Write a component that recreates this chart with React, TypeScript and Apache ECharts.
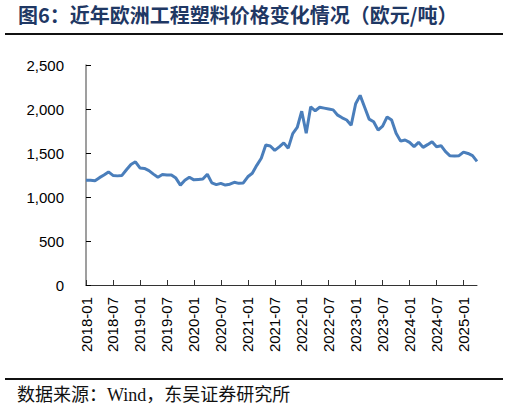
import { useEffect, useRef } from 'react';
import * as echarts from 'echarts';

// monthly price, EUR/ton, 2018-01 .. 2025-04
const startYear = 2018;
const monthCount = 88;

const months: string[] = [];
for (let i = 0; i < monthCount; i++) {
  const y = startYear + Math.floor(i / 12);
  const m = (i % 12) + 1;
  months.push(`${y}-${m < 10 ? '0' + m : m}`);
}

const prices = [
  1190, 1190, 1185, 1220, 1250, 1285, 1245, 1240, 1245, 1310, 1370, 1400,
  1330, 1325, 1300, 1260, 1225, 1255, 1250, 1250, 1215, 1135, 1190, 1225,
  1195, 1200, 1205, 1258, 1160, 1140, 1155, 1136, 1145, 1167, 1155, 1160,
  1230, 1270, 1360, 1440, 1590, 1580, 1530, 1570, 1615, 1555, 1720, 1790,
  1975, 1725, 2025, 1980, 2020, 2010, 2000, 1990, 1930, 1900, 1875, 1815,
  2060, 2155, 2020, 1885, 1855, 1760, 1805, 1910, 1875, 1725, 1635, 1648,
  1620, 1572, 1621, 1564, 1595, 1629, 1572, 1583, 1515, 1468, 1466, 1470,
  1510, 1495, 1470, 1405,
];

const titleText = '图6：近年欧洲工程塑料价格变化情况（欧元/吨）';
const sourceText = '数据来源：Wind，东吴证券研究所';

export default function App() {
  const chartRef = useRef<HTMLDivElement>(null);

  useEffect(() => {
    if (!chartRef.current) return;
    const chart = echarts.init(chartRef.current, undefined, { renderer: 'svg' });

    const option: echarts.EChartsOption = {
      animation: false,
      backgroundColor: '#fff',
      grid: { left: 86, right: 32, top: 65, bottom: 128 },
      graphic: [
        {
          type: 'text',
          left: 18,
          top: 4,
          style: {
            text: titleText,
            fill: '#1f3864',
            font: 'bold 20px "Noto Sans CJK SC", sans-serif',
          },
        },
        {
          type: 'line',
          shape: { x1: 5, y1: 34, x2: 503, y2: 34 },
          style: { stroke: '#111', lineWidth: 2 },
        },
        {
          type: 'line',
          shape: { x1: 5, y1: 379, x2: 503, y2: 379 },
          style: { stroke: '#111', lineWidth: 2 },
        },
        {
          type: 'text',
          left: 17,
          top: 386,
          style: {
            text: sourceText,
            fill: '#111',
            font: '18px "Liberation Serif", "Noto Sans CJK SC", serif',
          },
        },
      ],
      xAxis: {
        type: 'category',
        data: months,
        boundaryGap: false,
        axisLine: { lineStyle: { color: '#333', width: 1 } },
        axisTick: { inside: true, length: 5, interval: 5, lineStyle: { color: '#333' } },
        axisLabel: {
          interval: 5,
          rotate: 90,
          margin: 12,
          color: '#000',
          fontSize: 15,
          fontFamily: 'Arial, "Liberation Sans", sans-serif',
        },
        splitLine: { show: false },
      },
      yAxis: {
        type: 'value',
        min: 0,
        max: 2500,
        interval: 500,
        axisLine: { show: true, lineStyle: { color: '#7f7f7f', width: 1.5 } },
        axisTick: { show: true, inside: true, length: 5, lineStyle: { color: '#000' } },
        axisLabel: {
          margin: 22,
          color: '#000',
          fontSize: 15,
          fontFamily: 'Arial, "Liberation Sans", sans-serif',
          formatter: (v: number) => v.toLocaleString('en-US'),
        },
        splitLine: { show: false },
      },
      series: [
        {
          type: 'line',
          data: prices,
          showSymbol: false,
          lineStyle: { color: '#4a7ebb', width: 3 },
          itemStyle: { color: '#4a7ebb' },
        },
      ],
    };

    chart.setOption(option);
    return () => {
      chart.dispose();
    };
  }, []);

  return (
    <div
      ref={chartRef}
      style={{ position: 'absolute', left: 0, top: 0, width: '509px', height: '413px' }}
    />
  );
}
